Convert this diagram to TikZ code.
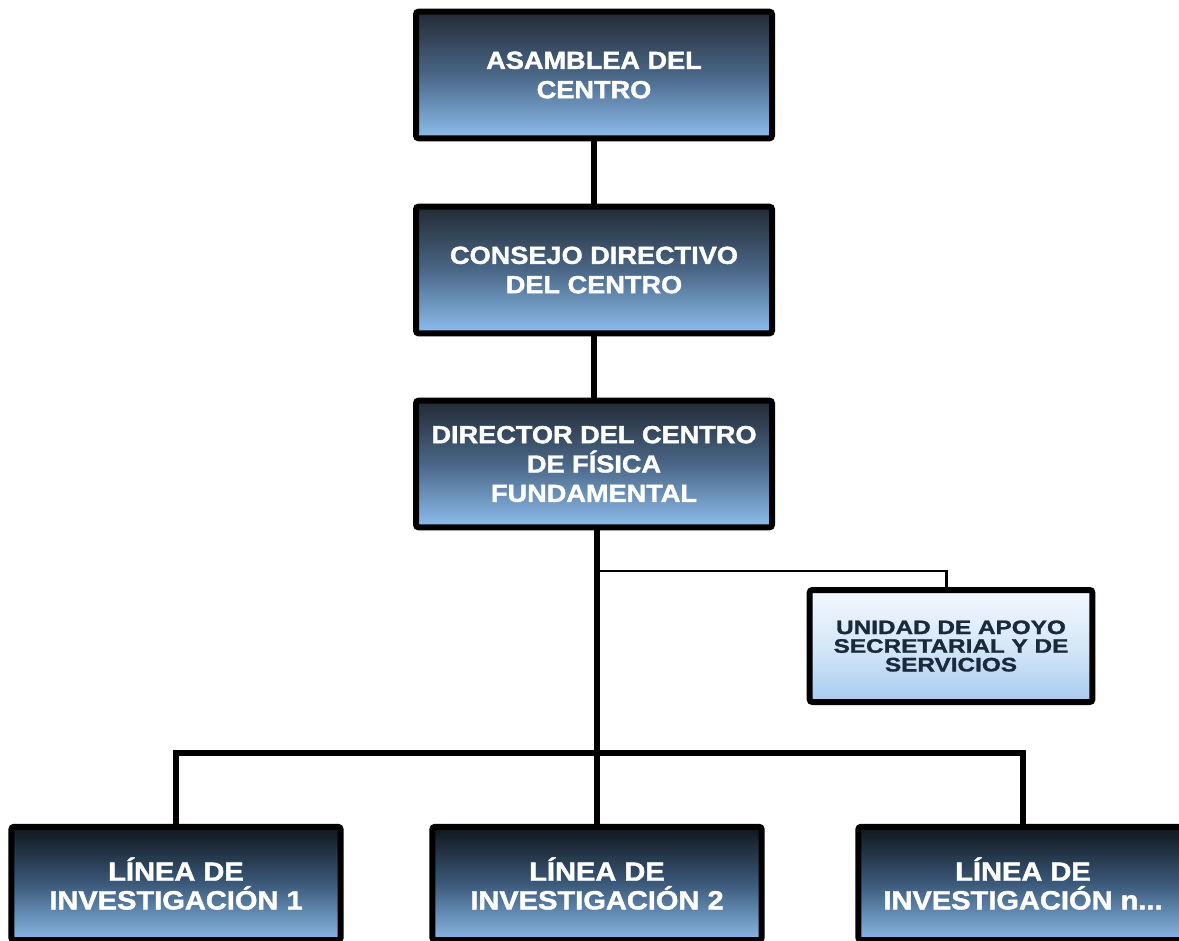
\documentclass[tikz,border=0pt]{standalone}
\usepackage{fontspec}
\newfontfamily\bxfont{Liberation Sans}[FakeStretch=1.1,FakeBold=1.6]
\newfontfamily\uxfont{Liberation Sans}[FakeStretch=1.25,FakeBold=1.4]
\definecolor{dtop}{HTML}{232A34}
\definecolor{dmid}{HTML}{4A6787}
\definecolor{dbot}{HTML}{8EBEEE}
\definecolor{ktop}{HTML}{0F151C}
\definecolor{kmid}{HTML}{3B5979}
\definecolor{kbot}{HTML}{8AB8E6}
\definecolor{ltop}{HTML}{F4F8FE}
\definecolor{lmid}{HTML}{D6E7F8}
\definecolor{lbot}{HTML}{A6CBF1}
\definecolor{utext}{HTML}{1B2A3B}
\begin{document}
\begin{tikzpicture}[x=0.75pt,y=-0.75pt,
  boxbase/.style={draw=black, line width=4.5pt, rounded corners=2pt, inner sep=0pt, align=center},
  mainbox/.style={boxbase, top color=dtop, bottom color=dbot, middle color=dmid,
     minimum width=267pt, minimum height=95pt, text=white,
     font=\bxfont\bfseries\fontsize{18.5}{22}\selectfont},
  linebox/.style={boxbase, top color=ktop, bottom color=kbot, middle color=kmid,
     minimum width=247pt, minimum height=85pt, text=white,
     font=\bxfont\bfseries\fontsize{19.8}{21.5}\selectfont},
  unitbox/.style={boxbase, top color=ltop, bottom color=lbot, middle color=lmid,
     minimum width=212pt, minimum height=84pt, text=utext,
     font=\uxfont\bfseries\fontsize{14.6}{14}\selectfont},
  trunk/.style={draw=black, line width=5pt, line join=miter},
  thinconn/.style={draw=black, line width=2pt}]
\useasboundingbox (0,0) rectangle (1179,940);
\clip (0,0) rectangle (1179,940);
\fill[white] (0,0) rectangle (1179,940);

\coordinate (tap) at (597,571);
\coordinate (bar) at (597,753);

\node[mainbox] (a1) at (594,75) {ASAMBLEA DEL\\CENTRO};
\node[mainbox] (a2) at (594,270) {CONSEJO DIRECTIVO\\DEL CENTRO};
\node[mainbox] (a3) at (594,464) {DIRECTOR DEL CENTRO\\DE FÍSICA\\FUNDAMENTAL};
\node[unitbox] (u) at (951,646) {UNIDAD DE APOYO\\SECRETARIAL Y DE\\SERVICIOS};
\node[linebox] (l1) at (176,883.5) {LÍNEA DE\\INVESTIGACIÓN 1};
\node[linebox] (l2) at (597,883.5) {LÍNEA DE\\INVESTIGACIÓN 2};
\node[linebox] (ln) at (1023,883.5) {LÍNEA DE\\INVESTIGACIÓN n...};

\draw[trunk] (a1.south) -- (a2.north);
\draw[trunk] (a2.south) -- (a3.north);
\draw[trunk] (a3.south -| bar) -- (bar);
\draw[trunk] (bar) -- (l2.north);
\draw[trunk] (l1.north) -- (l1.north |- bar) -- (ln.north |- bar) -- (ln.north);
\draw[thinconn] (tap) -| ([xshift=-3.5pt]u.north);
\end{tikzpicture}
\end{document}
